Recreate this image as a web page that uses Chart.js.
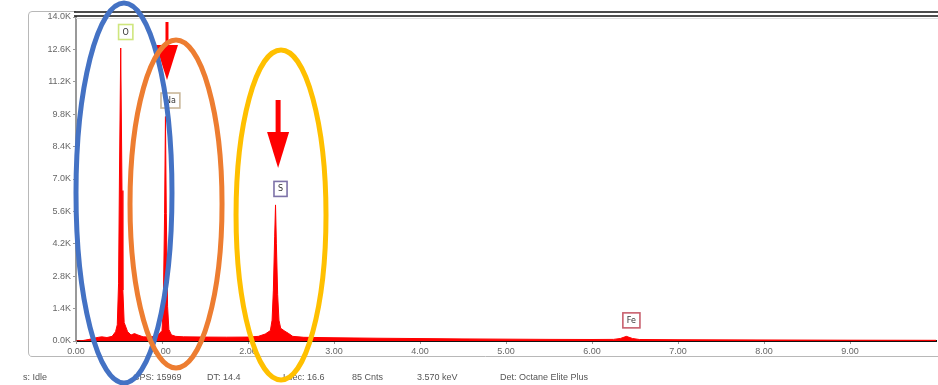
<!DOCTYPE html>
<html><head><meta charset="utf-8">
<script src="https://cdn.jsdelivr.net/npm/chart.js@4.4.1/dist/chart.umd.min.js"></script>
<style>html,body{margin:0;padding:0;background:#fff;}canvas{display:block;}</style>
</head><body>
<canvas id="c" width="938" height="385"></canvas>
<script>
// Spectrum (keV, counts)
const energyKeV = [0.00,0.08,0.14,0.20,0.26,0.30,0.36,0.42,0.46,0.48,0.495,0.505,0.52,0.535,0.545,0.56,0.60,0.64,0.68,0.72,0.78,0.86,0.94,0.99,1.00,1.015,1.03,1.04,1.05,1.065,1.08,1.11,1.16,1.25,1.50,1.75,2.00,2.12,2.20,2.26,2.28,2.295,2.31,2.32,2.33,2.345,2.36,2.38,2.43,2.47,2.52,2.65,3.00,3.50,4.00,4.50,5.00,5.50,6.00,6.25,6.33,6.40,6.47,6.55,7.00,8.00,9.00,10.00];
const counts    = [0,20,60,110,160,180,150,200,400,700,2500,7000,12660,6500,2200,800,400,260,320,260,180,170,220,400,450,1500,5500,9700,5500,1500,500,260,200,180,170,165,170,200,300,450,900,2200,4500,5880,4200,2000,900,550,420,330,200,160,140,120,105,90,80,70,65,70,110,200,110,65,55,45,35,30];

const yTickStepCounts = 1400;
const xTickStepKeV = 1;
const yMax = 14000, xMax = 10;

// Element markers: name, energy, counts of peak top
const elemNames  = ["O","Na","S","Fe"];
const elemEnergy = [0.52,1.04,2.32,6.40];
const elemCounts = [12660,9700,5880,200];
const elemBorder = ["#cfe67e","#c9b79a","#7d72a8","#c8606e"];

// Arrows (energy, shaft top, head base, tip) in data units
const arrowEnergy = [1.058,2.35];
const arrowTop    = [13784,10414];
const arrowBase   = [12790,9031];
const arrowTip    = [11278,7475];

// Highlight ellipses (center energy, center counts, radius keV, radius counts)
const ellCx = [0.558,1.163,2.384];
const ellCy = [6395,5920,5444];
const ellRx = [0.558,0.535,0.523];
const ellRy = [8210,7086,7130];
const ellColor = ["#4472c4","#ed7d31","#ffc000"];

// Status bar
const statusText = ["s: Idle","CPS: 15969","DT: 14.4","Lsec: 16.6","85 Cnts","3.570 keV","Det: Octane Elite Plus"];
const statusX    = [23,133,207,283,352,417,500];

const pts = energyKeV.map((e,i)=>({x:e,y:counts[i]}));

const overlay = {
  id:'overlay',
  afterDraw(chart){
    const ctx = chart.ctx, xs = chart.scales.x, ys = chart.scales.y, a = chart.chartArea;
    ctx.save();
    // outer panel
    ctx.strokeStyle = '#b8b8b8'; ctx.lineWidth = 1;
    ctx.beginPath();
    ctx.moveTo(960, 356.5); ctx.lineTo(32, 356.5);
    ctx.quadraticCurveTo(28.5,356.5,28.5,352); ctx.lineTo(28.5,15);
    ctx.quadraticCurveTo(28.5,11.5,32,11.5); ctx.lineTo(a.left,11.5);
    ctx.stroke();
    // plot frame top double line
    ctx.strokeStyle = '#111'; ctx.lineWidth = 1.5;
    ctx.beginPath(); ctx.moveTo(a.left-2, 12); ctx.lineTo(938, 12); ctx.stroke();
    ctx.beginPath(); ctx.moveTo(a.left-2, 16); ctx.lineTo(938, 16); ctx.stroke();
    ctx.strokeStyle = '#ddd'; ctx.lineWidth = 1;
    ctx.beginPath(); ctx.moveTo(a.left, 18.5); ctx.lineTo(938, 18.5); ctx.stroke();

    // element labels
    ctx.font = '8px "DejaVu Sans", sans-serif';
    ctx.textAlign = 'center'; ctx.textBaseline = 'middle';
    elemNames.forEach((n,i)=>{
      const px = xs.getPixelForValue(elemEnergy[i]) + 5;
      const py = ys.getPixelForValue(elemCounts[i]) - 16;
      const w = ctx.measureText(n).width + 8, h = 15;
      ctx.fillStyle = '#fff';
      ctx.fillRect(px-w/2, py-h/2, w, h);
      ctx.strokeStyle = elemBorder[i]; ctx.lineWidth = 1.6;
      ctx.strokeRect(px-w/2, py-h/2, w, h);
      ctx.fillStyle = '#333';
      ctx.fillText(n, px, py+0.5);
    });

    // arrows
    ctx.fillStyle = '#ff0000'; ctx.strokeStyle = '#ff0000';
    arrowEnergy.forEach((e,i)=>{
      const px = xs.getPixelForValue(e);
      const t = ys.getPixelForValue(arrowTop[i]);
      const b = ys.getPixelForValue(arrowBase[i]);
      const tip = ys.getPixelForValue(arrowTip[i]);
      ctx.lineWidth = i===0 ? 3 : 5;
      ctx.beginPath(); ctx.moveTo(px,t); ctx.lineTo(px,b+2); ctx.stroke();
      ctx.beginPath(); ctx.moveTo(px-11,b); ctx.lineTo(px+11,b); ctx.lineTo(px,tip); ctx.closePath(); ctx.fill();
    });

    // status bar
    ctx.font = '9px "Liberation Sans", "DejaVu Sans", sans-serif';
    ctx.textAlign = 'left'; ctx.textBaseline = 'middle'; ctx.fillStyle = '#555';
    statusText.forEach((s,i)=> ctx.fillText(s, statusX[i], 378));

    // ellipses
    ctx.lineWidth = 5;
    ellCx.forEach((cx,i)=>{
      const px = xs.getPixelForValue(cx), py = ys.getPixelForValue(ellCy[i]);
      const rx = xs.getPixelForValue(cx+ellRx[i]) - px;
      const ry = py - ys.getPixelForValue(ellCy[i]+ellRy[i]);
      ctx.strokeStyle = ellColor[i];
      ctx.beginPath(); ctx.ellipse(px, py, rx, ry, 0, 0, Math.PI*2); ctx.stroke();
    });
    ctx.restore();
  }
};

new Chart(document.getElementById('c'), {
  type:'line',
  data:{datasets:[{data:pts, borderColor:'#ff0000', backgroundColor:'#ff0000', fill:'origin', pointRadius:0, borderWidth:1, tension:0}]},
  options:{
    responsive:false, animation:false, devicePixelRatio:1,
    layout:{padding:{top:17,right:2,left:0,bottom:0}},
    plugins:{legend:{display:false}, tooltip:{enabled:false}},
    scales:{
      x:{type:'linear', min:0, max:xMax,
         afterFit(s){ s.height = 44; },
         ticks:{stepSize:xTickStepKeV, maxRotation:0, autoSkip:false, padding:2, color:'#666',
                font:{family:'"Liberation Sans", "DejaVu Sans", sans-serif', size:9},
                callback:v=> v>=xMax ? null : v.toFixed(2)},
         grid:{drawOnChartArea:false, drawTicks:true, tickLength:3, color:'#999'},
         border:{color:'#111', width:2}},
      y:{min:0, max:yMax,
         afterFit(s){ s.width = 76; },
         ticks:{stepSize:yTickStepCounts, padding:2, color:'#666',
                font:{family:'"Liberation Sans", "DejaVu Sans", sans-serif', size:9},
                callback:v=> (v/1000).toFixed(1)+'K'},
         grid:{drawOnChartArea:false, drawTicks:true, tickLength:3, color:'#999'},
         border:{color:'#999', width:2}}
    }
  },
  plugins:[overlay]
});
</script>
</body></html>
